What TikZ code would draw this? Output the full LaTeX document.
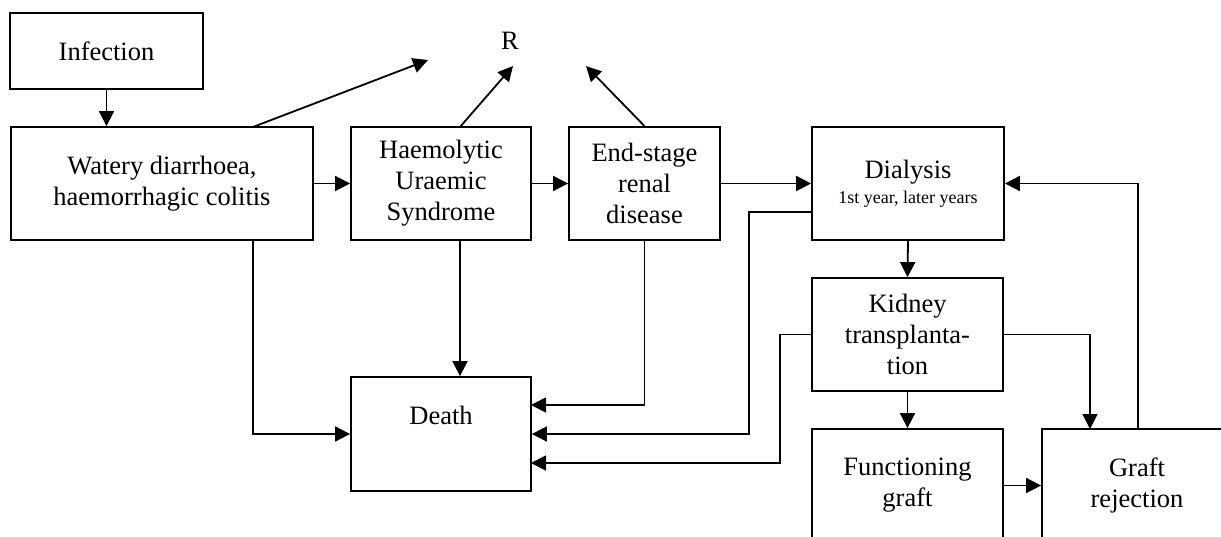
\documentclass[tikz,border=0pt]{standalone}
\usepackage{fontspec}
\setmainfont{Liberation Serif}
\usetikzlibrary{arrows.meta}
\newlength{\du}
\setlength{\du}{1\unitlength}
\tikzset{
  stagebox/.style={draw, line width=1.8\du, inner sep=0pt, align=center,
    font=\fontsize{26.5}{31}\selectfont},
  plaintext/.style={inner sep=0pt, font=\fontsize{26.5}{31}\selectfont},
  flow/.style={line width=1.8\du, -{Triangle[length=15pt,width=15pt]}},
}

\begin{document}
\begin{tikzpicture}
\pgftransformxscale{1.000000}
\pgftransformyscale{-1.000000}
\clip (0\du,0\du) rectangle (1221\du,537\du);
\definecolor{dialinecolor}{rgb}{0.000000, 0.000000, 0.000000}
\pgfsetstrokecolor{dialinecolor}
\pgfsetdash{}{0pt}
\pgfsetmiterjoin
% boxes
\node[stagebox, minimum width=193\du, minimum height=76\du] (infection) at (106.5\du,51\du){Infection};
\node[stagebox, minimum width=302\du, minimum height=113\du] (watery) at (162\du,183.5\du){Watery diarrhoea,\\haemorrhagic colitis};
\node[stagebox, minimum width=180\du, minimum height=113\du] (hus) at (441\du,183.5\du){Haemolytic\\Uraemic\\Syndrome};
\node[stagebox, minimum width=151\du, minimum height=113\du] (esrd) at (644.5\du,183.5\du){End-stage\\renal\\disease};
\node[stagebox, minimum width=192\du, minimum height=113\du] (dialysis) at (908\du,183.5\du){Dialysis\\[-6\du]{\fontsize{18}{20}\selectfont 1st year, later years}};
\node[stagebox, minimum width=180\du, minimum height=114\du] (death) at (441\du,434\du){Death\\[-3\du]\strut};
\node[stagebox, minimum width=191\du, minimum height=113\du] (kidney) at (907.5\du,334.5\du){Kidney\\transplanta-\\tion};
\node[stagebox, minimum width=191\du, minimum height=113\du] (functioning) at (907.5\du,485.5\du){Functioning\\graft};
\node[stagebox, minimum width=190\du, minimum height=113\du] (rejection) at (1137\du,485.5\du){Graft\\rejection};
% setfont left to latex
\node[plaintext] (recovery) at (510\du,41\du){R};
% ports
\coordinate (wateryup) at (253\du,127\du);
\coordinate (waterydown) at (253\du,240\du);
\coordinate (husup) at (460\du,127\du);
\coordinate (husdown) at (460\du,240\du);
\coordinate (dialysisout) at (812\du,212\du);
\coordinate (deathtop) at (531\du,405\du);
\coordinate (deathlow) at (531\du,463\du);
\coordinate (rejectionin) at (1090\du,429\du);
\coordinate (rejectionout) at (1138\du,429\du);
\coordinate (rwatery) at (428\du,60\du);
\coordinate (rhus) at (513\du,66\du);
\coordinate (resrd) at (586\du,66\du);
\pgfsetbuttcap
\begin{scope}[flow]
\draw (infection.south) -- (infection.south |- watery.north);
\draw (wateryup) -- (rwatery);
\draw (husup) -- (rhus);
\draw (esrd.north) -- (resrd);
\draw (watery.east) -- (hus.west);
\draw (hus.east) -- (esrd.west);
\draw (esrd.east) -- (dialysis.west);
\draw (waterydown) |- (death.west);
\draw (husdown) -- (husdown |- death.north);
\draw (esrd.south) |- (deathtop);
\draw (dialysisout) -- ++(-63\du,0) |- (death.east);
\draw (kidney.west) -- ++(-31\du,0) |- (deathlow);
\draw (dialysis.south) -- (kidney.north);
\draw (kidney.south) -- (functioning.north);
\draw (kidney.east) -| (rejectionin);
\draw (functioning.east) -- (rejection.west);
\draw (rejectionout) |- (dialysis.east);
\end{scope}
\end{tikzpicture}
\end{document}
